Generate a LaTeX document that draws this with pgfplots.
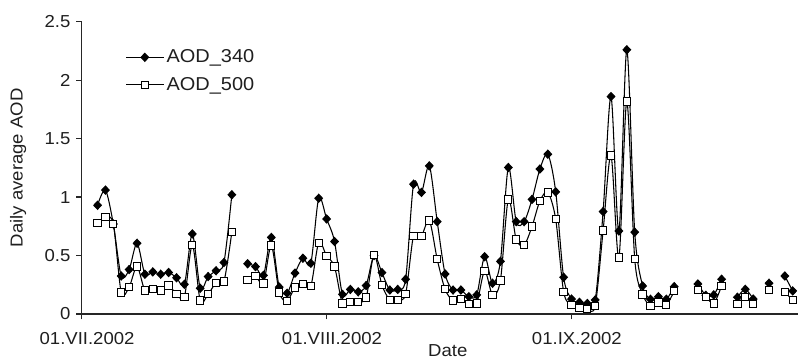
\documentclass[border=0pt]{standalone}
\usepackage{fontspec}
\setmainfont{Liberation Sans}[FakeStretch=1.07]
\usepackage{pgfplots}
\pgfplotsset{compat=1.18}
\usepackage{pgfplotstable}

\pgfplotstableread{
day a340 a500
2 0.93 0.78
3 1.06 0.83
4 0.77 0.77
5 0.325 0.185
6 0.38 0.23
7 0.605 0.405
8 0.34 0.20
9 0.36 0.215
10 0.34 0.20
11 0.355 0.243
12 0.31 0.17
13 0.254 0.148
14 0.685 0.59
15 0.22 0.114
16 0.32 0.17
17 0.37 0.265
18 0.44 0.277
19 1.02 0.70
20 nan nan
21 0.43 0.29
22 0.405 0.325
23 0.33 0.26
24 0.655 0.585
25 0.23 0.185
26 0.178 0.112
27 0.35 0.228
28 0.477 0.257
29 0.434 0.24
30 0.99 0.61
31 0.813 0.497
32 0.62 0.405
33 0.168 0.09
34 0.21 0.105
35 0.19 0.105
36 0.243 0.14
37 0.50 0.505
38 0.354 0.248
39 0.205 0.12
40 0.21 0.12
41 0.297 0.171
42 1.11 0.668
43 1.04 0.668
44 1.267 0.80
45 0.79 0.468
46 0.342 0.211
47 0.205 0.114
48 0.205 0.128
49 0.148 0.086
50 0.163 0.09
51 0.49 0.368
52 0.263 0.163
53 0.45 0.287
54 1.253 0.98
55 0.79 0.637
56 0.79 0.59
57 0.98 0.748
58 1.24 0.967
59 1.367 1.04
60 1.045 0.81
61 0.314 0.19
62 0.128 0.077
63 0.10 0.049
64 0.09 0.04
65 0.12 0.071
66 0.876 0.713
67 1.86 1.355
68 0.71 0.482
69 2.26 1.818
70 0.70 0.471
71 0.24 0.168
72 0.126 0.071
73 0.148 0.097
74 0.126 0.077
75 0.234 0.197
76 nan nan
77 nan nan
78 0.257 0.205
79 0.16 0.148
80 0.163 0.091
81 0.297 0.24
82 nan nan
83 0.143 0.086
84 0.211 0.148
85 0.128 0.086
86 nan nan
87 0.263 0.205
88 nan nan
89 0.325 0.186
90 0.197 0.12
}\aod

\pgfplotsset{longlegend/.style={legend image code/.code={\draw[mark repeat=2,mark phase=2,##1] plot coordinates {(0cm,0cm) (0.49cm,0cm) (0.98cm,0cm)};}}}

\begin{document}
\fontsize{13}{15}\selectfont
\begin{tikzpicture}
\begin{axis}[
  scale only axis, width=537.2pt, height=219.2pt,
  xmin=0, xmax=90.67, ymin=0, ymax=2.5,
  axis lines*=left,
  axis line style={line width=1pt, color=black!85},
  xtick={0,31,62},
  xticklabels={01.VII.2002,01.VIII.2002,01.IX.2002},
  xticklabel style={xshift=4pt, yshift=-5.5pt},
  ytick={0,0.5,1,1.5,2,2.5},
  tick align=outside, major tick length=4pt,
  tick style={line width=0.9pt, color=black!85},
  /pgf/number format/assume math mode=true,
  ticklabel style={color=black!88},
  xlabel={Date}, ylabel={Daily average AOD},
  label style={color=black!88},
  xlabel style={at={(rel axis cs:0.511,-0.1471)}, anchor=base},
  ylabel style={at={(rel axis cs:-0.0889,0.5)}, anchor=center, rotate=0},
  unbounded coords=jump,
  clip=false,
  legend style={draw=none, fill=none, inner sep=0pt, at={(rel axis cs:0.061,0.915)}, anchor=north west, row sep=5pt, text=black!88, font=\fontsize{14}{16}\selectfont},
  legend cell align=left,
]
\addplot[black, line width=0.8pt, smooth, mark=diamond*, mark size=3pt, mark options={xscale=1.25, solid, fill=black}, longlegend] table[x=day, y=a340] {\aod};
\addlegendentry{AOD\_340}
\addplot[black, line width=0.8pt, smooth, mark=square*, mark size=2.75pt, mark options={solid, fill=white, line width=0.75pt}, longlegend] table[x=day, y=a500] {\aod};
\addlegendentry{AOD\_500}
\end{axis}
\pgfresetboundingbox
\path ([shift={(-61.3pt,-33.75pt)}]current axis.south west) rectangle ([shift={(0pt,16.3pt)}]current axis.north east);
\end{tikzpicture}
\end{document}
